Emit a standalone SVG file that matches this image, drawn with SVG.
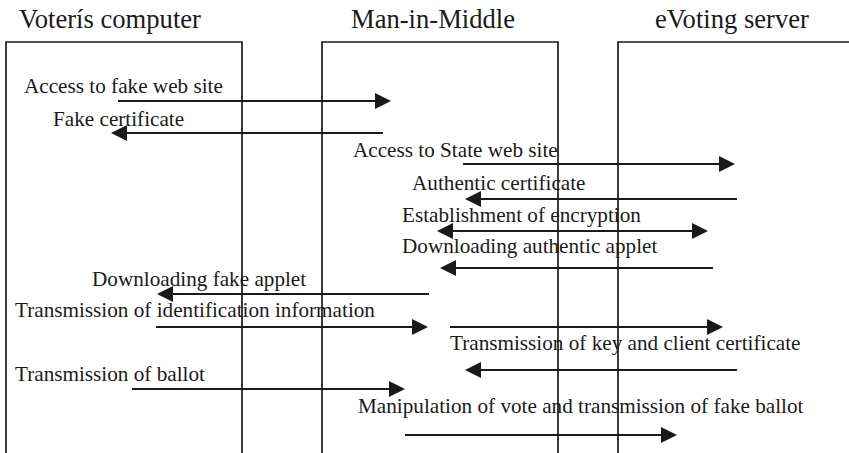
<svg xmlns="http://www.w3.org/2000/svg" width="849" height="453" viewBox="0 0 849 453">
<style>
.bg{fill:#ffffff}
.box{fill:none;stroke:#1a1a1a;stroke-width:1.7}
.title{font-size:26.6px;fill:#1a1a1a}
.lbl{font-size:21.2px;fill:#1a1a1a}
.msg{stroke:#1a1a1a;stroke-width:2.2;fill:none;marker-end:url(#ah)}
.dbl{marker-start:url(#ah)}
</style>
<defs>
<marker id="ah" markerUnits="userSpaceOnUse" markerWidth="16" markerHeight="16" viewBox="0 0 16 16" refX="8" refY="8" orient="auto-start-reverse">
<path d="M0,0 L16,8 L0,16 z" fill="#1a1a1a"/>
</marker>
</defs>
<rect class="bg" x="0" y="0" width="849" height="453"/>
<g font-family="'Liberation Serif', 'Times New Roman', Times, 'DejaVu Serif', serif">
<g id="voter">
<text class="title" x="19" y="28">Voterís computer</text>
<path class="box" d="M6,460 V42 H242 V460"/>
</g>
<g id="mitm">
<text class="title" x="351" y="28">Man-in-Middle</text>
<path class="box" d="M322,460 V42 H558 V460"/>
</g>
<g id="server">
<text class="title" x="655" y="28">eVoting server</text>
<path class="box" d="M618,460 V42 H860"/>
</g>
<g id="connectors">
<line class="msg" x1="118" y1="101" x2="383" y2="101"/>
<text class="lbl" x="24" y="93">Access to fake web site</text>
<line class="msg" x1="383" y1="133" x2="119" y2="133"/>
<text class="lbl" x="53" y="126">Fake certificate</text>
<line class="msg" x1="463" y1="164" x2="727" y2="164"/>
<text class="lbl" x="353" y="157">Access to State web site</text>
<line class="msg" x1="737" y1="199" x2="473" y2="199"/>
<text class="lbl" x="412" y="190">Authentic certificate</text>
<line class="msg dbl" x1="445" y1="231" x2="700" y2="231"/>
<text class="lbl" x="402" y="222">Establishment of encryption</text>
<line class="msg" x1="713" y1="268" x2="448" y2="268"/>
<text class="lbl" x="402" y="253">Downloading authentic applet</text>
<line class="msg" x1="429" y1="294" x2="165" y2="294"/>
<text class="lbl" x="92" y="286">Downloading fake applet</text>
<line class="msg" x1="156" y1="327" x2="420" y2="327"/>
<text class="lbl" x="15" y="317">Transmission of identification information</text>
<line class="msg" x1="450" y1="327" x2="715" y2="327"/>
<line class="msg" x1="737" y1="370" x2="473" y2="370"/>
<text class="lbl" x="450" y="350">Transmission of key and client certificate</text>
<line class="msg" x1="132" y1="389" x2="397" y2="389"/>
<text class="lbl" x="15" y="381">Transmission of ballot</text>
<line class="msg" x1="405" y1="435" x2="669" y2="435"/>
<text class="lbl" x="358" y="413">Manipulation of vote and transmission of fake ballot</text>
</g>
</g>
</svg>
